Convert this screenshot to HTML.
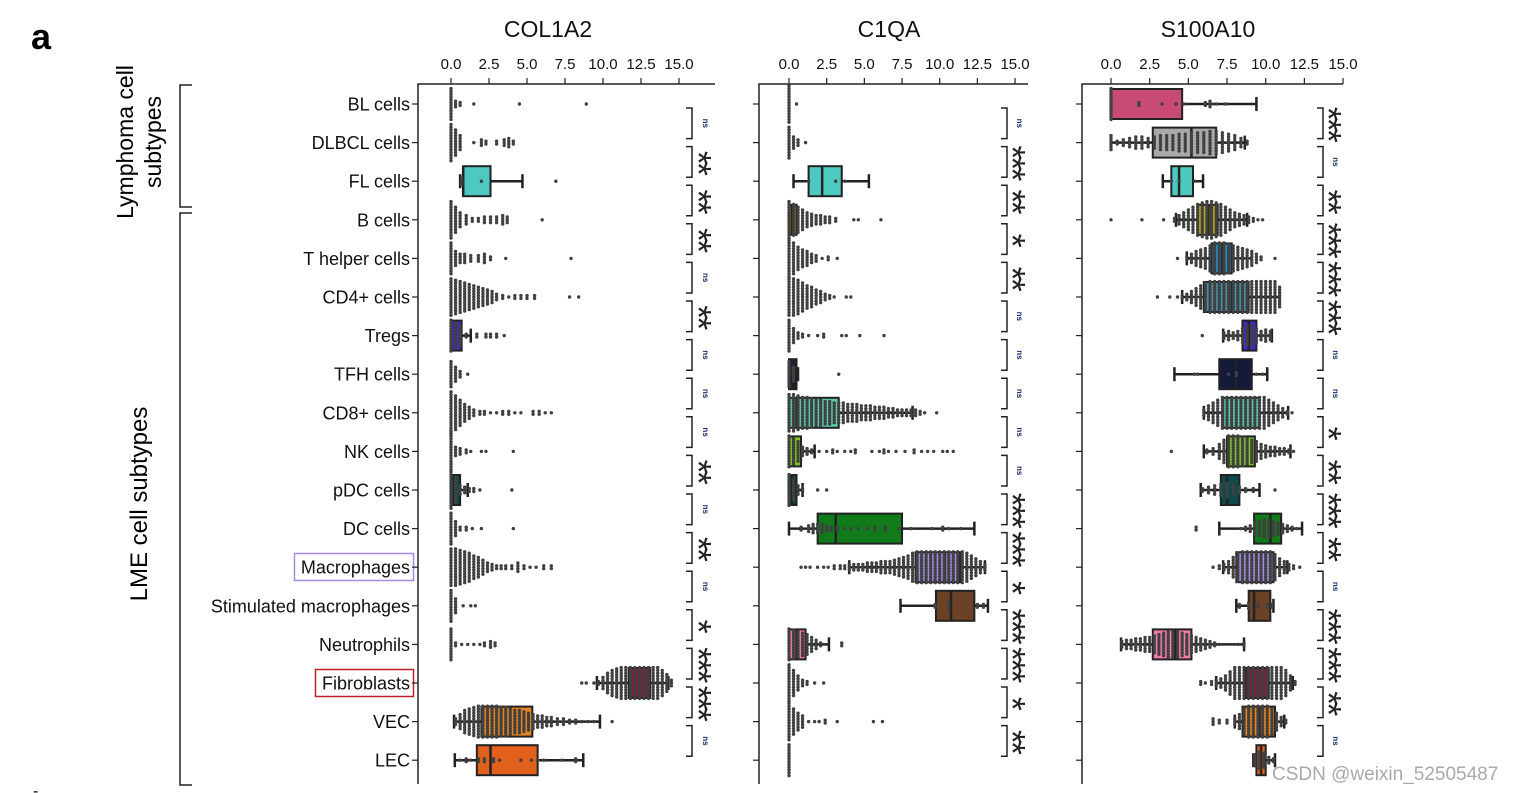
<!DOCTYPE html>
<html><head><meta charset="utf-8"><style>
html,body{margin:0;padding:0;background:#fff;}
svg{display:block;font-family:"Liberation Sans",Arial,sans-serif;}
</style></head><body>
<svg id="chart" width="1519" height="793" viewBox="0 0 1519 793" xmlns="http://www.w3.org/2000/svg">
<text x="31" y="49" font-size="36" font-weight="bold">a</text>
<g>
<text transform="translate(133,142) rotate(-90)" text-anchor="middle" font-size="23">Lymphoma cell</text>
<text transform="translate(161,142) rotate(-90)" text-anchor="middle" font-size="23">subtypes</text>
</g>
<text transform="translate(147,504) rotate(-90)" text-anchor="middle" font-size="24">LME cell subtypes</text>
<path d="M192,85 H180 V207 H192" fill="none" stroke="#222" stroke-width="1.5"/>
<path d="M192,213 H180 V785 H192" fill="none" stroke="#222" stroke-width="1.5"/>
<rect x="294.5" y="553.5" width="119" height="27" fill="none" stroke="#a78be8" stroke-width="1.5"/>
<rect x="315.5" y="669.5" width="98" height="27" fill="none" stroke="#c0202a" stroke-width="1.5"/>
<text x="33" y="796" font-size="16">-</text>
<text x="1272" y="780" font-size="19" fill="#aaa">CSDN @weixin_52505487</text>
</svg>
<script>
const rowLabels=["BL cells","DLBCL cells","FL cells","B cells","T helper cells","CD4+ cells","Tregs","TFH cells","CD8+ cells","NK cells","pDC cells","DC cells","Macrophages","Stimulated macrophages","Neutrophils","Fibroblasts","VEC","LEC"];
const rowColors=["#c84a77","#a9a9a9","#4ec9c0","#b8a81c","#1f8fc7","#4a8fa6","#3a2ad0","#161a3a","#5cc8b0","#7cc42a","#0d4a4a","#117a1a","#a58ae0","#6b4226","#f07aa8","#8b1a3a","#e8841e","#e0601c"];
const tickLabels=["0.0","2.5","5.0","7.5","10.0","12.5","15.0"];
const tickValues=[0,2.5,5,7.5,10,12.5,15];

const p1Boxes=[null,null,[0.6,0.8,0.8,2.6,4.7],null,null,null,[0,0,0.3,0.7,1.3],null,null,null,[0,0,0.2,0.6,1.1],null,null,null,null,[9.6,11.7,12.4,13.1,14.3],[0.2,2.0,3.3,5.35,9.8],[0.25,1.7,2.6,5.7,8.7]];
const p1Points=[
[[0,12],[0.3,3],[0.6,2],[1.5,1],[4.5,1],[8.9,1]],
[[0,14],[0.3,10],[0.6,6],[1.5,1],[2,3],[2.3,2],[3,2],[3.5,3],[3.8,4],[4.1,2]],
[[0.7,3],[2,1],[6.9,1]],
[[0,14],[0.3,10],[0.6,6],[1,4],[1.4,2],[1.8,2],[2.2,3],[2.6,3],[3,3],[3.4,4],[3.7,3],[6,1]],
[[0,12],[0.3,6],[0.6,4],[0.9,4],[1.3,3],[1.8,3],[2.2,4],[2.6,2],[3.6,1],[7.9,1]],
[[0,14],[0.3,13],[0.6,12],[0.9,11],[1.2,10],[1.5,9],[1.8,8],[2.1,7],[2.4,6],[2.7,5],[3.0,3],[3.4,2],[3.8,1],[4.2,2],[4.6,2],[5,2],[5.5,2],[7.8,1],[8.4,1]],
[[0,12],[0.3,10],[0.6,8],[1,2],[1.7,2],[2.3,2],[2.6,2],[3,2],[3.5,1]],
[[0,10],[0.3,6],[0.6,3],[1.1,1]],
[[0,16],[0.3,13],[0.6,10],[0.9,7],[1.2,5],[1.5,3],[1.9,2],[2.2,2],[2.6,1],[3,1],[3.4,2],[3.8,2],[4.2,1],[4.6,1],[5.4,2],[5.8,2],[6.2,1],[6.6,1]],
[[0,14],[0.3,4],[0.6,3],[1,2],[1.3,1],[2.0,1],[2.3,1],[4.1,1]],
[[0,14],[0.3,10],[0.6,4],[0.9,3],[1.2,2],[1.5,2],[1.9,1],[4,1]],
[[0,12],[0.3,6],[0.6,2],[1,2],[1.4,1],[2,1],[4.1,1]],
[[0,14],[0.3,14],[0.6,13],[0.9,12],[1.2,11],[1.5,9],[1.8,8],[2.1,6],[2.4,4],[2.7,3],[3.0,2],[3.3,2],[3.6,2],[4,2],[4.4,4],[4.8,2],[5.2,1],[5.6,1],[6.1,2],[6.6,2]],
[[0,12],[0.3,6],[0.8,1],[1.3,1],[1.6,1]],
[[0,12],[0.3,2],[0.7,1],[1.1,1],[1.5,1],[1.9,1],[2.2,2],[2.6,3],[2.9,2]],
[[8.6,1],[8.9,1],[9.4,1],[9.7,2],[10.0,5],[10.3,8],[10.6,10],[10.9,11],[11.2,12],[11.5,12],[11.8,12],[12.1,12],[12.4,12],[12.7,12],[13.0,12],[13.3,12],[13.6,12],[13.9,10],[14.2,7],[14.5,3]],
[[0.3,3],[0.6,6],[0.9,9],[1.2,10],[1.5,11],[1.8,12],[2.1,12],[2.4,12],[2.7,12],[3,12],[3.3,11],[3.6,11],[3.9,10],[4.2,9],[4.5,9],[4.8,8],[5.1,7],[5.4,6],[5.7,5],[6,5],[6.3,4],[6.6,4],[7,3],[7.4,3],[7.8,2],[8.2,2],[8.6,1],[9,1],[9.4,1],[10.6,1]],
[[0.6,1],[1,2],[1.3,1],[1.8,2],[2.2,2],[2.8,2],[3.2,1],[4.6,1],[5.3,1],[5.7,1],[6.1,1],[7.3,1],[8.2,2]]];
const p1Sig=["ns","**","**","**","ns","**","ns","ns","ns","**","ns","**","ns","*","***","***","ns"];

const p2Boxes=[null,null,[0.3,1.3,2.2,3.5,5.3],[0,0,0.2,0.5,0.5],null,null,null,[0,0,0.2,0.5,0.6],[0,0,0.5,3.3,8.2],[0,0,0.3,0.8,1.7],[0,0,0.2,0.5,0.9],[0,1.9,3.1,7.5,12.3],[4.0,8.4,10.35,11.35,13.0],[7.4,9.75,10.75,12.3,13.2],[0,0,0.5,1.1,2.65],null,null,null];
const p2Points=[
[[0,14],[0.5,1]],
[[0,12],[0.3,5],[0.6,3],[1.1,1]],
[[1.3,1],[3.1,1],[3.7,1]],
[[0,14],[0.3,12],[0.6,10],[0.9,8],[1.2,6],[1.5,5],[1.8,4],[2.1,4],[2.4,3],[2.7,3],[3.1,2],[4.3,1],[4.6,1],[6.1,1]],
[[0,14],[0.3,12],[0.6,9],[0.9,7],[1.2,6],[1.5,4],[1.8,3],[2.2,1],[2.6,2],[3.2,1]],
[[0,14],[0.3,14],[0.6,13],[0.9,11],[1.2,9],[1.5,8],[1.8,6],[2.1,5],[2.4,3],[2.7,2],[3,1],[3.8,1],[4.1,1]],
[[0,12],[0.3,6],[0.6,3],[0.9,2],[1.3,1],[1.9,1],[2.3,2],[3.5,1],[3.8,1],[4.7,1],[6.3,1]],
[[0,10],[0.3,6],[3.3,1]],
[[0,14],[0.3,14],[0.6,13],[0.9,12],[1.2,12],[1.5,11],[1.8,10],[2.1,10],[2.4,9],[2.7,9],[3,8],[3.3,8],[3.6,8],[3.9,7],[4.2,7],[4.5,7],[4.8,6],[5.1,6],[5.4,6],[5.7,5],[6,5],[6.3,5],[6.6,4],[6.9,4],[7.2,3],[7.5,3],[7.8,3],[8.1,3],[8.4,3],[8.7,2],[9,1],[9.8,1]],
[[0,12],[0.3,10],[0.6,8],[0.9,4],[1.2,3],[1.5,2],[2,1],[2.5,1],[2.9,2],[3.2,1],[3.7,1],[4.1,1],[4.4,2],[5.5,1],[6.0,1],[6.3,2],[6.6,1],[7.1,1],[7.7,1],[8.3,2],[8.8,1],[9.2,1],[9.6,1],[10.2,1],[10.5,1],[10.9,1]],
[[0,12],[0.3,8],[0.6,4],[0.9,2],[1.9,1],[2.5,1]],
[[0.8,2],[1.3,3],[1.6,4],[1.9,4],[2.2,4],[2.5,3],[2.8,2],[3.2,2],[3.7,1],[4.1,1],[4.6,1],[5.2,1],[5.7,2],[6.4,2],[7.3,1],[8.1,1],[9.5,1],[10.2,2],[10.6,1],[11.4,1]],
[[0.8,1],[1.1,1],[1.4,1],[1.9,1],[2.3,1],[2.6,1],[3,2],[3.4,2],[3.7,2],[4.0,3],[4.3,3],[4.6,3],[4.9,3],[5.2,4],[5.5,4],[5.8,4],[6.1,5],[6.4,5],[6.7,5],[7,6],[7.3,7],[7.6,8],[7.9,9],[8.2,11],[8.5,12],[8.8,12],[9.1,12],[9.4,12],[9.7,12],[10,12],[10.3,12],[10.6,12],[10.9,12],[11.2,12],[11.5,12],[11.8,11],[12.1,9],[12.4,7],[12.7,5],[13,3]],
[[9.7,2],[10.6,3],[12.5,2],[12.9,2]],
[[0,12],[0.3,11],[0.6,10],[0.9,9],[1.2,8],[1.5,6],[1.8,4],[2.1,2],[3.5,2]],
[[0,14],[0.3,10],[0.6,6],[0.9,3],[1.2,2],[1.7,1],[2.3,1]],
[[0,14],[0.3,10],[0.6,7],[0.9,5],[1.3,1],[1.7,1],[2,1],[2.4,2],[3.2,1],[5.6,1],[6.2,1]],
[[0,12]]];
const p2Sig=["ns","***","**","*","**","ns","ns","ns","ns","ns","***","***","*","***","***","*","**"];

const p3Boxes=[[0,0,0,4.6,9.4],[0,2.7,5.2,6.8,8.65],[3.35,3.9,4.4,5.3,5.95],[4.2,5.6,6.3,6.9,8.8],[4.9,6.5,7.2,7.8,9.1],[4.6,6.0,7.8,8.9,10.9],[7.25,8.5,8.9,9.4,10.4],[4.1,7.0,8.1,9.1,10.1],[6.0,7.25,8.4,9.6,11.45],[6.0,7.5,7.9,9.3,11.6],[5.8,7.1,7.5,8.3,9.6],[7.0,9.25,10.3,11.0,12.35],[7.25,8.1,9.4,10.5,11.4],[8.1,8.9,9.25,10.3,10.5],[0.65,2.7,4.15,5.2,8.6],[6.8,8.7,9.5,10.2,11.75],[8.0,8.5,9.6,10.6,11.2],[9.2,9.4,9.7,10.0,10.6]];
const p3Points=[
[[0,12],[1.8,2],[3.3,1],[4.2,1],[4.7,1],[6.1,2],[6.4,3],[6.8,1],[7.4,1]],
[[0,6],[0.4,2],[0.8,3],[1.2,4],[1.6,5],[2,5],[2.4,4],[2.8,5],[3.2,6],[3.6,6],[4,6],[4.4,7],[4.8,7],[5.2,8],[5.6,8],[6,8],[6.4,9],[6.8,9],[7.2,8],[7.6,7],[8,6],[8.4,4],[8.8,2]],
[[3.9,1],[4.4,1],[5.4,1]],
[[0,1],[2,1],[3.4,1],[4.1,2],[4.4,4],[4.7,6],[5,8],[5.3,10],[5.6,12],[5.9,13],[6.2,14],[6.5,14],[6.8,13],[7.1,12],[7.4,10],[7.7,8],[8,6],[8.3,5],[8.6,4],[8.9,3],[9.2,2],[9.5,1],[9.8,1]],
[[4.3,1],[4.9,2],[5.2,4],[5.5,6],[5.8,7],[6.1,8],[6.4,10],[6.7,12],[7,12],[7.3,12],[7.6,11],[7.9,10],[8.2,9],[8.5,8],[8.8,7],[9.1,6],[9.4,4],[9.7,2],[10.6,1]],
[[3,1],[3.8,1],[4.3,1],[4.6,2],[4.9,3],[5.2,5],[5.5,7],[5.8,9],[6.1,11],[6.4,12],[6.7,12],[7,12],[7.3,12],[7.6,12],[7.9,12],[8.2,12],[8.5,12],[8.8,12],[9.1,12],[9.4,12],[9.7,12],[10,12],[10.3,12],[10.6,12],[10.9,8]],
[[5.9,1],[7.3,3],[7.6,4],[7.9,3],[8.2,4],[8.5,6],[8.8,8],[9.1,8],[9.4,6],[9.7,4],[10,5],[10.3,4]],
[[5.4,1],[5.6,1],[7.6,1],[8.1,2],[9.4,1],[9.8,1]],
[[6,3],[6.3,6],[6.6,8],[6.9,10],[7.2,12],[7.5,12],[7.8,12],[8.1,12],[8.4,12],[8.7,12],[9,12],[9.3,12],[9.6,12],[9.9,12],[10.2,10],[10.5,8],[10.8,6],[11.1,4],[11.4,2],[11.7,1]],
[[3.9,1],[6.2,2],[6.6,3],[7,6],[7.3,9],[7.6,12],[7.9,12],[8.2,12],[8.5,11],[8.8,10],[9.1,9],[9.4,8],[9.7,6],[10,5],[10.3,4],[10.6,4],[10.9,3],[11.2,3],[11.5,2],[11.8,1]],
[[5.9,2],[6.3,3],[6.7,4],[7.1,5],[7.5,6],[7.9,5],[8.3,3],[8.7,2],[9.2,2],[10.6,1]],
[[5.5,2],[8.4,1],[8.7,2],[9,3],[9.3,5],[9.6,6],[9.9,7],[10.2,7],[10.5,6],[10.8,5],[11.1,4],[11.4,3],[11.7,2],[12,1]],
[[6.6,1],[7,2],[7.3,3],[7.6,5],[7.9,8],[8.2,11],[8.5,12],[8.8,12],[9.1,12],[9.4,12],[9.7,12],[10,12],[10.3,12],[10.6,10],[10.9,7],[11.2,5],[11.5,3],[11.8,2],[12.2,1]],
[[8.3,2],[8.9,3],[9.5,2],[10.1,2],[10.4,2]],
[[0.7,3],[1.0,4],[1.3,4],[1.6,5],[1.9,5],[2.2,6],[2.5,6],[2.8,7],[3.1,8],[3.4,9],[3.7,10],[4,10],[4.3,10],[4.6,9],[4.9,8],[5.2,7],[5.5,6],[5.8,5],[6.1,4],[6.4,3],[6.7,2],[7,1],[8.2,1],[8.6,2]],
[[5.8,2],[6.1,1],[6.5,2],[6.8,3],[7.1,4],[7.4,6],[7.7,9],[8.0,12],[8.3,12],[8.6,12],[8.9,12],[9.2,12],[9.5,12],[9.8,12],[10.1,12],[10.4,12],[10.7,12],[11.0,12],[11.3,10],[11.6,6],[11.9,2]],
[[6.6,3],[7,2],[7.5,2],[8,3],[8.3,6],[8.6,10],[8.9,12],[9.2,12],[9.5,12],[9.8,12],[10.1,12],[10.4,10],[10.7,7],[11,4],[11.3,2]],
[[9.3,5],[9.6,7],[9.9,6],[10.2,3],[10.5,2]]];
const p3Sig=["***","ns","**","***","***","***","ns","ns","*","**","***","**","ns","***","***","**","ns"];

const NS="http://www.w3.org/2000/svg";
const svg=document.getElementById("chart");
const rowY=i=>104+i*38.6;
function mk(tag,attrs,parent){const e=document.createElementNS(NS,tag);for(const k in attrs)e.setAttribute(k,attrs[k]);(parent||svg).appendChild(e);return e;}

rowLabels.forEach((lab,i)=>{
  const t=mk("text",{x:410,y:rowY(i)+6.5,"text-anchor":"end","font-size":18,fill:"#111"});
  t.textContent=lab;
  
  
});

function drawPanel(cfg,boxes,points,sigs){
  const g=mk("g",{});
  
  
  const xs=v=>cfg.x0+v*cfg.k;
  const title=mk("text",{x:cfg.tx,y:37,"text-anchor":"middle","font-size":23,fill:"#111"},g);
  title.textContent=cfg.title;
  
  
  const ax=mk("path",{d:`M${cfg.left},784 V84 H${cfg.right}`,fill:"none",stroke:"#222","stroke-width":1.5},g);
  
  
  tickValues.forEach((v,i)=>{
    mk("line",{x1:xs(v),x2:xs(v),y1:78,y2:84,stroke:"#222","stroke-width":1.2},g);
    const tl=mk("text",{x:xs(v),y:69,"text-anchor":"middle","font-size":15,fill:"#111"},g);
    tl.textContent=tickLabels[i];
    
    
  });
  rowLabels.forEach((_,i)=>{mk("line",{x1:cfg.left-6,x2:cfg.left,y1:rowY(i),y2:rowY(i),stroke:"#222","stroke-width":1.2},g);});
  boxes.forEach((b,i)=>{
    if(!b)return;
    const y=rowY(i);
    const bg=mk("g",{},g);
    
    
    mk("line",{x1:xs(b[0]),x2:xs(b[4]),y1:y,y2:y,stroke:"#222","stroke-width":2.5},bg);
    mk("line",{x1:xs(b[0]),x2:xs(b[0]),y1:y-7,y2:y+7,stroke:"#222","stroke-width":2.5},bg);
    mk("line",{x1:xs(b[4]),x2:xs(b[4]),y1:y-7,y2:y+7,stroke:"#222","stroke-width":2.5},bg);
    mk("rect",{x:xs(b[1]),y:y-15,width:Math.max(1,xs(b[3])-xs(b[1])),height:30,fill:rowColors[i],stroke:"#222","stroke-width":2},bg);
    mk("line",{x1:xs(b[2]),x2:xs(b[2]),y1:y-15,y2:y+15,stroke:"#222","stroke-width":2.5},bg);
  });
  points.forEach((bins,i)=>{
    const y=rowY(i);
    const pg=mk("g",{fill:"#404040"},g);
    
    
    bins.forEach(([v,n])=>{
      for(let j=0;j<n;j++){
        mk("circle",{cx:xs(v),cy:y+(j-(n-1)/2)*2.8,r:1.7},pg);
      }
    });
  });
  sigs.forEach((s,i)=>{
    const top=rowY(i)+4,bot=rowY(i+1)-4,mid=(top+bot)/2;
    const br=mk("path",{d:`M${cfg.bx-6},${top} H${cfg.bx} V${bot} H${cfg.bx-6}`,fill:"none",stroke:"#222","stroke-width":1.5},g);
    
    
    let t;
    if(s==="ns"){
      t=mk("text",{transform:`translate(${cfg.sx-3},${mid}) rotate(90)`,"text-anchor":"middle","font-size":8,"font-weight":"bold",fill:"#1a2a6a"},g);
    }else{
      t=mk("text",{transform:`translate(${cfg.sx-20},${mid}) rotate(90)`,"text-anchor":"middle","font-size":36,"letter-spacing":"-3",fill:"#222"},g);
    }
    t.textContent=s;
    
    
  });
}
drawPanel({name:"col1a2-panel",title:"COL1A2",tx:548,x0:451,k:15.2,left:418,right:715,bx:692,sx:706},p1Boxes,p1Points,p1Sig);
drawPanel({name:"c1qa-panel",title:"C1QA",tx:889,x0:789,k:15.07,left:759,right:1028,bx:1007,sx:1020},p2Boxes,p2Points,p2Sig);
drawPanel({name:"s100a10-panel",title:"S100A10",tx:1208,x0:1111,k:15.47,left:1082,right:1343,bx:1323,sx:1336},p3Boxes,p3Points,p3Sig);
</script>
</body></html>
